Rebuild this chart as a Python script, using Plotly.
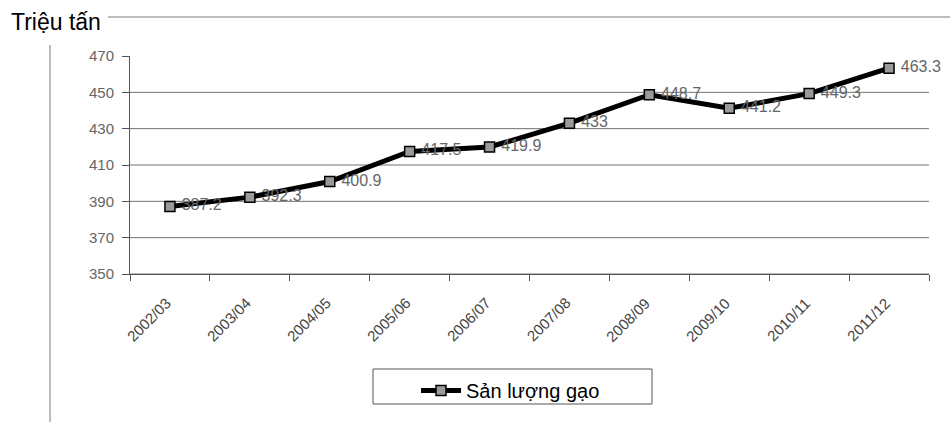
import plotly.graph_objects as go

# Rice production by crop year (million tonnes)
seasons = ["2002/03", "2003/04", "2004/05", "2005/06", "2006/07",
           "2007/08", "2008/09", "2009/10", "2010/11", "2011/12"]
production = [387.2, 392.3, 400.9, 417.5, 419.9, 433, 448.7, 441.2, 449.3, 463.3]
y_ticks = [350, 370, 390, 410, 430, 450, 470]
series_name = "Sản lượng gạo"
unit_label = "Triệu tấn"

W, H = 950, 422
L, R, T, B = 130, 21, 56, 148
plot_h = H - T - B
plot_w = W - L - R


def px_x(x):
    return (x - L) / plot_w


def px_y(y):
    return (H - B - y) / plot_h


fig = go.Figure()
fig.add_trace(go.Scatter(
    x=seasons, y=production, name=series_name,
    mode="lines+markers+text",
    line=dict(color="black", width=5),
    marker=dict(symbol="square", size=10, color="#9a9a9a",
                line=dict(color="black", width=1.5)),
    text=[f" {v:g}" for v in production],
    textposition="middle right",
    textfont=dict(family="Arial", size=16, color="#666666"),
    cliponaxis=False,
))

# horizontal gridlines below the top tick
shapes = [dict(type="line", xref="paper", yref="y", x0=0, x1=1, y0=v, y1=v,
               line=dict(color="#707070", width=1), layer="below")
          for v in y_ticks[:-1]]
# frame lines around the chart area
shapes.append(dict(type="line", xref="paper", yref="paper",
                   x0=px_x(108), x1=px_x(W), y0=px_y(17), y1=px_y(17),
                   line=dict(color="#7a7a7a", width=1)))
shapes.append(dict(type="line", xref="paper", yref="paper",
                   x0=px_x(50), x1=px_x(50), y0=px_y(45), y1=px_y(H),
                   line=dict(color="#7a7a7a", width=1)))
# legend box
shapes.append(dict(type="rect", xref="paper", yref="paper",
                   x0=px_x(373), x1=px_x(652), y0=px_y(369), y1=px_y(404),
                   line=dict(color="#555555", width=1), fillcolor="rgba(0,0,0,0)"))

annotations = [dict(text=unit_label, xref="paper", yref="paper",
                    x=px_x(9), y=px_y(22), xanchor="left", yanchor="middle",
                    showarrow=False,
                    font=dict(family="Arial", size=23, color="black"))]
# category labels centred under each point
for s in seasons:
    annotations.append(dict(x=s, y=350, xref="x", yref="y", text=s,
                            showarrow=False, textangle=-45,
                            xanchor="right", yanchor="top",
                            xshift=7, yshift=-18,
                            font=dict(family="Arial", size=15, color="#444444")))

fig.update_layout(
    width=W, height=H,
    margin=dict(l=L, r=R, t=T, b=B),
    paper_bgcolor="white", plot_bgcolor="white",
    font=dict(family="Arial", color="#555555"),
    shapes=shapes,
    annotations=annotations,
    showlegend=True,
    legend=dict(x=px_x(416), y=px_y(371), xanchor="left", yanchor="top",
                borderwidth=0, bgcolor="rgba(0,0,0,0)",
                font=dict(family="Arial", size=20, color="black"),
                itemwidth=40),
)
fig.update_xaxes(
    type="category", range=[-0.5, len(seasons) - 0.5],
    showgrid=False, showline=True, linecolor="#555555", linewidth=1,
    ticks="outside", ticklen=6, tickcolor="#555555",
    tickmode="array", tickvals=[i - 0.5 for i in range(len(seasons) + 1)],
    ticktext=[""] * (len(seasons) + 1),
)
fig.update_yaxes(
    range=[350, 470], tickvals=y_ticks, showgrid=False,
    showline=True, linecolor="#555555", linewidth=1,
    ticks="outside", ticklen=7, tickcolor="#555555",
    ticklabelstandoff=5,
    tickfont=dict(family="Arial", size=15, color="#666666"),
)

fig.write_html("out.html")
